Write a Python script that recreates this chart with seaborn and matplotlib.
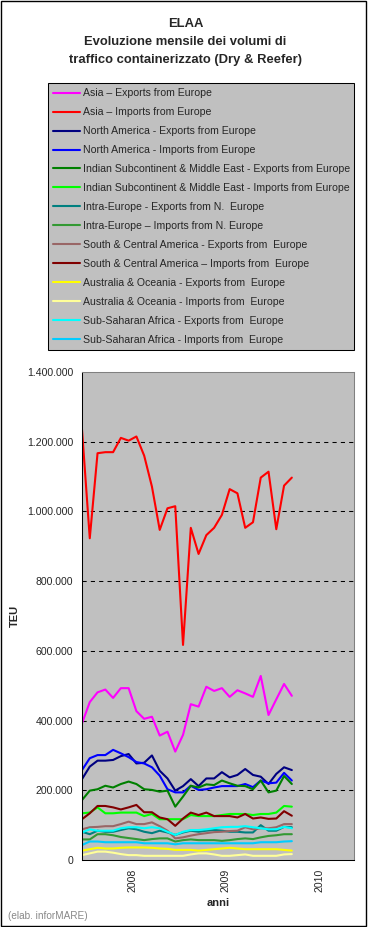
import numpy as np
import pandas as pd
import matplotlib
matplotlib.use("Agg")
import matplotlib.pyplot as plt
from matplotlib.ticker import FuncFormatter, FixedLocator
from matplotlib.patches import Rectangle
import seaborn as sns

# ---------------- data ----------------
series_names = [
    "Asia \u2013 Exports from Europe",
    "Asia \u2013 Imports from Europe",
    "North America - Exports from Europe",
    "North America - Imports from Europe",
    "Indian Subcontinent & Middle East - Exports from Europe",
    "Indian Subcontinent & Middle East - Imports from Europe",
    "Intra-Europe - Exports from N.  Europe",
    "Intra-Europe \u2013 Imports from N. Europe",
    "South & Central America - Exports from  Europe",
    "South & Central America \u2013 Imports from  Europe",
    "Australia & Oceania - Exports from  Europe",
    "Australia & Oceania - Imports from  Europe",
    "Sub-Saharan Africa - Exports from  Europe",
    "Sub-Saharan Africa - Imports from  Europe",
]
series_colors = ["#FF00FF", "#FF0000", "#000080", "#0000FF", "#008000", "#00FF00",
                 "#008080", "#339933", "#996666", "#800000", "#FFFF00", "#FFFF99",
                 "#00FFFF", "#00CCFF"]

month_idx = list(range(28))

asia_exp = [392, 453, 481, 489, 465, 493, 493, 427, 405, 411, 357, 368, 311, 359,
            447, 440, 497, 485, 493, 468, 487, 478, 468, 528, 416, 461, 505, 471]
asia_imp = [1235, 923, 1167, 1170, 1170, 1211, 1203, 1215, 1160, 1071, 947, 1009, 1015, 617,
            953, 878, 932, 953, 990, 1064, 1052, 953, 969, 1097, 1114, 949, 1074, 1097]
na_exp = [232, 268, 285, 285, 287, 298, 304, 277, 279, 300, 256, 234, 199, 212,
          232, 212, 234, 234, 252, 237, 244, 261, 244, 239, 218, 247, 266, 258]
na_imp = [258, 292, 301, 301, 316, 306, 295, 281, 277, 266, 242, 203, 194, 194,
          213, 201, 203, 208, 212, 212, 212, 218, 209, 228, 220, 222, 250, 228]
isc_exp = [172, 199, 203, 213, 208, 218, 225, 218, 203, 201, 196, 199, 153, 182,
           213, 208, 217, 215, 228, 220, 213, 212, 203, 228, 194, 199, 241, 218]
isc_imp = [134, 136, 151, 134, 134, 136, 136, 136, 126, 132, 117, 117, 117, 117,
           129, 126, 126, 126, 129, 132, 132, 132, 129, 132, 132, 136, 155, 153]
ie_exp = [81, 74, 84, 81, 81, 86, 91, 88, 81, 77, 84, 79, 72, 79,
          84, 81, 84, 86, 84, 81, 81, 79, 79, 100, 84, 84, 95, 94]
ie_imp = [59, 59, 74, 74, 71, 66, 63, 60, 57, 60, 62, 62, 53, 57,
          59, 57, 57, 57, 55, 57, 60, 62, 60, 65, 69, 71, 74, 74]
sca_exp = [88, 94, 95, 97, 97, 103, 110, 103, 103, 108, 97, 84, 62, 65,
           70, 74, 77, 80, 81, 83, 84, 94, 88, 91, 91, 94, 103, 103]
sca_imp = [117, 134, 155, 155, 151, 145, 151, 158, 137, 137, 122, 117, 98, 119,
           136, 129, 136, 126, 126, 126, 122, 132, 119, 122, 118, 119, 140, 127]
aus_exp = [27, 31, 35, 33, 33, 35, 36, 36, 36, 35, 33, 32, 29, 29,
           29, 27, 29, 31, 33, 35, 33, 31, 31, 31, 31, 31, 29, 27]
aus_imp = [14, 19, 24, 24, 21, 17, 14, 14, 12, 12, 12, 12, 12, 12,
           16, 19, 19, 16, 12, 12, 14, 16, 12, 12, 12, 12, 16, 17]
ssa_exp = [79, 88, 84, 84, 84, 91, 94, 94, 91, 94, 91, 81, 72, 81,
           86, 86, 88, 91, 94, 95, 95, 97, 94, 91, 88, 88, 95, 91]
ssa_imp = [43, 53, 53, 51, 51, 51, 51, 51, 48, 48, 48, 48, 45, 48,
           48, 48, 48, 48, 48, 48, 48, 48, 48, 51, 51, 51, 53, 54]

all_values = [asia_exp, asia_imp, na_exp, na_imp, isc_exp, isc_imp, ie_exp, ie_imp,
              sca_exp, sca_imp, aus_exp, aus_imp, ssa_exp, ssa_imp]  # thousands of TEU

year_labels = ["2008", "2009", "2010"]
y_ticks = [0, 200000, 400000, 600000, 800000, 1000000, 1200000, 1400000]

title_lines = ["ELAA", "Evoluzione mensile dei volumi di",
               "traffico containerizzato (Dry & Reefer)"]

rows = []
for name, vals in zip(series_names, all_values):
    for m, v in zip(month_idx, vals):
        rows.append({"month": m, "TEU": v * 1000, "series": name})
df = pd.DataFrame(rows)
palette = dict(zip(series_names, series_colors))

# ---------------- figure ----------------
sns.set_style("white")
plt.rcParams["font.family"] = ["Liberation Sans", "DejaVu Sans"]

W, H = 368, 927
fig = plt.figure(figsize=(W / 100, H / 100), dpi=100)
fig.patch.set_facecolor("white")

ax_l, ax_r, ax_t, ax_b = 82, 354, 372, 860
ax = fig.add_axes([ax_l / W, 1 - ax_b / H, (ax_r - ax_l) / W, (ax_b - ax_t) / H])
ax.set_facecolor("#C0C0C0")

sns.lineplot(data=df, x="month", y="TEU", hue="series", hue_order=series_names,
             palette=palette, linewidth=1.5, ax=ax, estimator=None, sort=False)

ax.set_xlim(0, 35)
ax.set_ylim(0, 1400000)

for yv in y_ticks[1:-1]:
    ax.axhline(yv, color="black", linewidth=0.75, linestyle=(0, (4, 4)), zorder=1)

ax.yaxis.set_major_locator(FixedLocator(y_ticks))
ax.yaxis.set_major_formatter(FuncFormatter(lambda v, p: f"{int(v):,}".replace(",", ".")))
ax.tick_params(axis="y", direction="out", length=3, width=0.75, color="black",
               labelsize=7.6, pad=3.5)

ax.set_xticks([0, 12, 24])
ax.set_xticklabels(["", "", ""])
ax.set_xticks([6.5, 18.5, 30.5], minor=True)
ax.set_xticklabels(year_labels, minor=True, rotation=90, fontsize=7.6)
ax.tick_params(axis="x", which="major", direction="out", length=3, width=0.75, color="black")
ax.tick_params(axis="x", which="minor", length=0, pad=6)

for s in ["left", "bottom"]:
    ax.spines[s].set_color("black")
    ax.spines[s].set_linewidth(0.75)
for s in ["top", "right"]:
    ax.spines[s].set_color("#808080")
    ax.spines[s].set_linewidth(0.75)

ax.set_ylabel("")
ax.set_xlabel("anni", fontsize=8, fontweight="bold")
ax.xaxis.set_label_coords(0.5, (ax_b - 898) / (ax_b - ax_t))
fig.text(15 / W, 1 - 616 / H, "TEU", rotation=90, ha="center", va="center",
         fontsize=8, fontweight="bold")

# legend
handles, labels = ax.get_legend_handles_labels()
if ax.get_legend() is not None:
    ax.get_legend().remove()
leg = fig.legend(handles, labels, loc="upper left",
                 bbox_to_anchor=(48 / W, 0, 306 / W, 1 - 83 / H), mode="expand",
                 borderaxespad=0, fontsize=7.6, frameon=True, fancybox=False,
                 framealpha=1, facecolor="#C0C0C0", edgecolor="black",
                 handlelength=2.55, handletextpad=0.3, labelspacing=0.85,
                 borderpad=0.5)
leg.get_frame().set_linewidth(0.75)
for lh in leg.get_lines():
    lh.set_linewidth(1.5)

# title
for txt, yc in zip(title_lines, [24, 42, 60]):
    fig.text(185.5 / W, 1 - yc / H, txt, ha="center", va="center",
             fontsize=9.4, fontweight="bold")

fig.text(8 / W, 1 - 916 / H, "(elab. inforMARE)", ha="left", va="center",
         fontsize=7.2, color="#888888")

fig.patches.append(Rectangle((0.5 / W, 1.0 / H), 365 / W, 925.5 / H,
                             transform=fig.transFigure, fill=False,
                             edgecolor="black", linewidth=1))

fig.savefig("out.png", dpi=100)
